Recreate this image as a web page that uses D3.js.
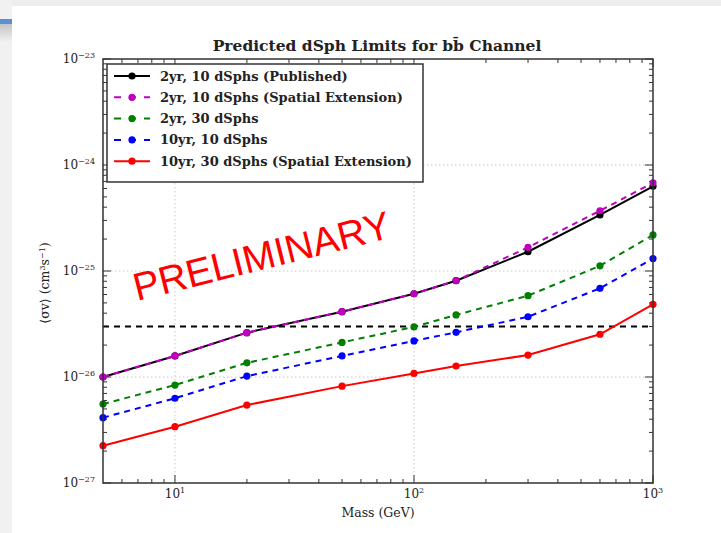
<!DOCTYPE html>
<html>
<head>
<meta charset="utf-8">
<script src="https://cdn.jsdelivr.net/npm/d3@7/dist/d3.min.js"></script>
<style>
  html, body { margin: 0; padding: 0; background: #ffffff; }
  svg { display: block; }
  text { font-family: "DejaVu Serif", "Liberation Serif", serif; fill: #222; }
</style>
</head>
<body>
<svg id="chart" width="721" height="533"></svg>
<script>
// Dark matter masses (GeV) at which the limits were computed
const masses = [5, 10, 20, 50, 100, 150, 300, 600, 1000];

// Upper limits on <sigma v> (cm^3 s^-1), b-bbar channel
const published2yr10 = [1.0e-26, 1.58e-26, 2.62e-26, 4.13e-26, 6.1e-26, 8.1e-26, 1.52e-25, 3.38e-25, 6.3e-25];
const spatial2yr10   = [1.0e-26, 1.58e-26, 2.62e-26, 4.13e-26, 6.1e-26, 8.1e-26, 1.67e-25, 3.7e-25, 6.8e-25];
const limits2yr30    = [5.56e-27, 8.4e-27, 1.36e-26, 2.12e-26, 2.97e-26, 3.85e-26, 5.85e-26, 1.12e-25, 2.19e-25];
const limits10yr10   = [4.13e-27, 6.3e-27, 1.02e-26, 1.58e-26, 2.19e-26, 2.64e-26, 3.7e-26, 6.87e-26, 1.31e-25];
const spatial10yr30  = [2.25e-27, 3.4e-27, 5.44e-27, 8.2e-27, 1.08e-26, 1.27e-26, 1.61e-26, 2.53e-26, 4.85e-26];

// Thermal relic cross section reference line
const thermalRelic = 3e-26;

const seriesNames = [
  "2yr, 10 dSphs (Published)",
  "2yr, 10 dSphs (Spatial Extension)",
  "2yr, 30 dSphs",
  "10yr, 10 dSphs",
  "10yr, 30 dSphs (Spatial Extension)"
];

const xTickExponents = [1, 2, 3];
const yTickExponents = [-27, -26, -25, -24, -23];

const series = [
  { name: seriesNames[0], values: published2yr10, color: "#000000", dash: null },
  { name: seriesNames[1], values: spatial2yr10,   color: "#bf00bf", dash: "6,5" },
  { name: seriesNames[2], values: limits2yr30,    color: "#007f00", dash: "6,5" },
  { name: seriesNames[3], values: limits10yr10,   color: "#0000ff", dash: "6,5" },
  { name: seriesNames[4], values: spatial10yr30,  color: "#ff0000", dash: null }
];

const svg = d3.select("#chart");

// --- slide surround ---
svg.append("rect").attr("x", 0).attr("y", 0).attr("width", 721).attr("height", 6).attr("fill", "#ededed");
svg.append("rect").attr("x", 0).attr("y", 0).attr("width", 12).attr("height", 533).attr("fill", "#f1f1f1");
const grad = svg.append("defs").append("linearGradient")
  .attr("id", "shade").attr("x1", 0).attr("y1", 0).attr("x2", 0).attr("y2", 1);
grad.append("stop").attr("offset", "0%").attr("stop-color", "#c4c4c4");
grad.append("stop").attr("offset", "100%").attr("stop-color", "#f1f1f1");
svg.append("rect").attr("x", 0).attr("y", 24).attr("width", 12).attr("height", 18).attr("fill", "url(#shade)");
svg.append("rect").attr("x", 0).attr("y", 19).attr("width", 12).attr("height", 5).attr("fill", "#5b8fd0");

// --- plot geometry ---
const plotLeft = 103, plotTop = 59, plotW = 550, plotH = 424;
const x = d3.scaleLog().domain([5, 1000]).range([plotLeft, plotLeft + plotW]);
const y = d3.scaleLog().domain([1e-27, 1e-23]).range([plotTop + plotH, plotTop]);

const g = svg.append("g");

// grid at major decades
const xMajors = xTickExponents.map(e => Math.pow(10, e));
const yMajors = yTickExponents.map(e => Math.pow(10, e));
g.selectAll(".gx").data(xMajors.filter(v => v < 1000)).join("line")
  .attr("x1", d => x(d)).attr("x2", d => x(d)).attr("y1", plotTop).attr("y2", plotTop + plotH)
  .attr("stroke", "#c8c8c8").attr("stroke-width", 1).attr("stroke-dasharray", "1.5,2.5");
g.selectAll(".gy").data(yMajors.slice(1, -1)).join("line")
  .attr("x1", plotLeft).attr("x2", plotLeft + plotW).attr("y1", d => y(d)).attr("y2", d => y(d))
  .attr("stroke", "#c8c8c8").attr("stroke-width", 1).attr("stroke-dasharray", "1.5,2.5");

// minor tick values
const xMinor = x.ticks().filter(v => !xMajors.includes(v) && v > 5 && v < 1000);
const yMinor = y.ticks().filter(v => !yMajors.some(m => Math.abs(m - v) / m < 1e-6));

// inward ticks on all four sides
function drawTicks(vals, len, horizontal) {
  vals.forEach(v => {
    if (horizontal) {
      const px = x(v);
      g.append("line").attr("x1", px).attr("x2", px).attr("y1", plotTop + plotH).attr("y2", plotTop + plotH - len)
        .attr("stroke", "#333").attr("stroke-width", 1);
      g.append("line").attr("x1", px).attr("x2", px).attr("y1", plotTop).attr("y2", plotTop + len)
        .attr("stroke", "#333").attr("stroke-width", 1);
    } else {
      const py = y(v);
      g.append("line").attr("x1", plotLeft).attr("x2", plotLeft + len).attr("y1", py).attr("y2", py)
        .attr("stroke", "#333").attr("stroke-width", 1);
      g.append("line").attr("x1", plotLeft + plotW).attr("x2", plotLeft + plotW - len).attr("y1", py).attr("y2", py)
        .attr("stroke", "#333").attr("stroke-width", 1);
    }
  });
}
drawTicks(xMajors, 8, true);
drawTicks(xMinor, 4, true);
drawTicks(yMajors, 8, false);
drawTicks(yMinor, 4, false);

// thermal relic line
g.append("line")
  .attr("x1", x(5)).attr("x2", x(1000))
  .attr("y1", y(thermalRelic)).attr("y2", y(thermalRelic))
  .attr("stroke", "#000").attr("stroke-width", 2).attr("stroke-dasharray", "6,5");

// series lines and markers
const line = d3.line().x((d, i) => x(masses[i])).y(d => y(d));
series.forEach(s => {
  g.append("path").datum(s.values)
    .attr("d", line).attr("fill", "none")
    .attr("stroke", s.color).attr("stroke-width", 2)
    .attr("stroke-dasharray", s.dash);
  g.selectAll(null).data(s.values).join("circle")
    .attr("cx", (d, i) => x(masses[i])).attr("cy", d => y(d))
    .attr("r", 3.6).attr("fill", s.color);
});

// frame
g.append("rect").attr("x", plotLeft).attr("y", plotTop).attr("width", plotW).attr("height", plotH)
  .attr("fill", "none").attr("stroke", "#333").attr("stroke-width", 1.5);

// tick labels
xTickExponents.forEach(e => {
  const t = svg.append("text").attr("x", x(Math.pow(10, e))).attr("y", 498)
    .attr("text-anchor", "middle").attr("font-size", 12);
  t.append("tspan").text("10");
  t.append("tspan").attr("dy", -5).attr("font-size", 8).text(String(e));
});
yTickExponents.forEach(e => {
  const t = svg.append("text").attr("x", 95).attr("y", y(Math.pow(10, e)) + 4)
    .attr("text-anchor", "end").attr("font-size", 12);
  t.append("tspan").text("10");
  t.append("tspan").attr("dy", -5).attr("font-size", 8).text("\u2212" + Math.abs(e));
});

// axis titles
svg.append("text").attr("x", x(Math.sqrt(5 * 1000))).attr("y", 517)
  .attr("text-anchor", "middle").attr("font-size", 12.5).text("Mass (GeV)");
const yl = svg.append("text").attr("transform", "translate(49," + (plotTop + plotH / 2 + 12) + ") rotate(-90)")
  .attr("text-anchor", "middle").attr("font-size", 12.5);
yl.append("tspan").text("\u27E8\u03C3v\u27E9 (cm");
yl.append("tspan").attr("dy", -4).attr("font-size", 8).text("3");
yl.append("tspan").attr("dy", 4).text("s");
yl.append("tspan").attr("dy", -4).attr("font-size", 8).text("\u22121");
yl.append("tspan").attr("dy", 4).text(")");

// title
svg.append("text").attr("x", 377).attr("y", 51)
  .attr("text-anchor", "middle").attr("font-size", 15.5).attr("font-weight", "bold")
  .text("Predicted dSph Limits for bb\u0304 Channel");

// legend
const lg = svg.append("g");
lg.append("rect").attr("x", 107).attr("y", 64).attr("width", 316).attr("height", 118)
  .attr("fill", "#fff").attr("stroke", "#333").attr("stroke-width", 1.5);
series.forEach((s, i) => {
  const ly = 76 + i * 21.3;
  lg.append("line").attr("x1", 114).attr("x2", 150).attr("y1", ly).attr("y2", ly)
    .attr("stroke", s.color).attr("stroke-width", 2)
    .attr("stroke-dasharray", s.dash ? "7,8" : null);
  lg.append("circle").attr("cx", 132).attr("cy", ly).attr("r", 3.6).attr("fill", s.color);
  lg.append("text").attr("x", 160).attr("y", ly + 4.5).attr("font-size", 13)
    .attr("font-weight", "bold").text(s.name);
});

// watermark
svg.append("text")
  .attr("transform", "translate(137,301) rotate(-14)")
  .style("font-family", "'Liberation Sans', Arial, sans-serif")
  .style("font-size", "39px").style("fill", "#ff0000")
  .text("PRELIMINARY");
</script>
</body>
</html>
